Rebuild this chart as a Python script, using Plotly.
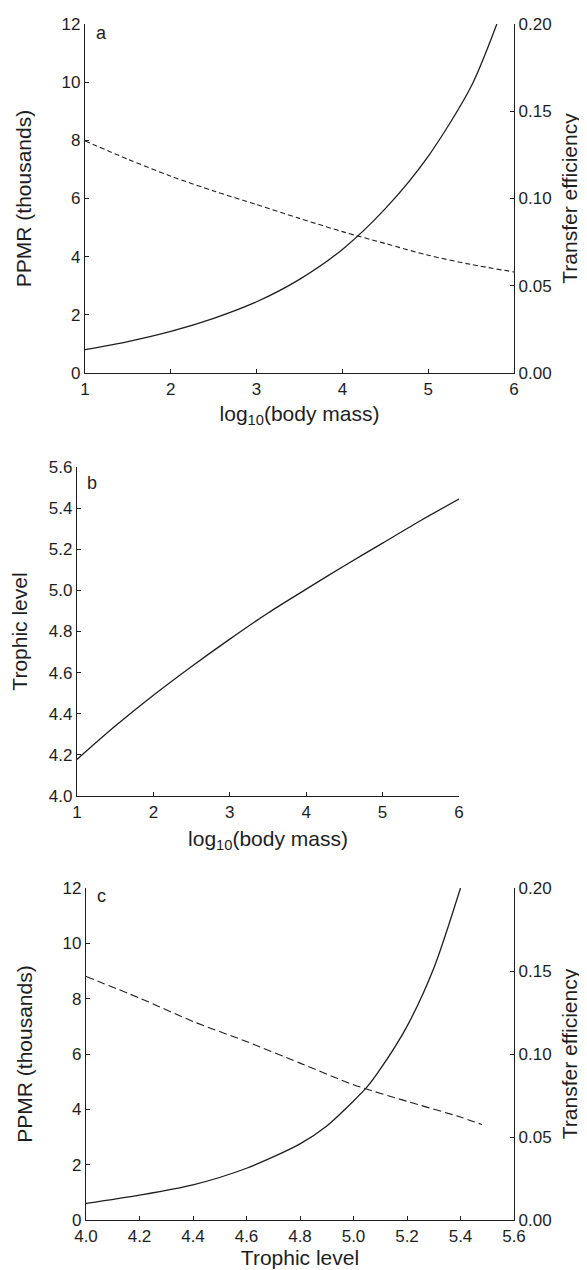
import plotly.graph_objects as go

# Panel a: PPMR and transfer efficiency vs log10(body mass)
a_x_ppmr = [1.0, 1.5, 2.0, 2.5, 3.0, 3.5, 4.0, 4.5, 5.0, 5.5, 5.8]
a_ppmr = [0.80, 1.08, 1.43, 1.88, 2.45, 3.22, 4.25, 5.65, 7.45, 9.85, 12.0]
a_x_te = [1.0, 1.5, 2.0, 2.5, 3.0, 3.5, 4.0, 4.5, 5.0, 5.5, 6.0]
a_te = [0.133, 0.1225, 0.1128, 0.1043, 0.0965, 0.0886, 0.081, 0.0742, 0.0675, 0.0622, 0.0579]

# Panel b: trophic level vs log10(body mass)
b_x = [1.0, 1.5, 2.0, 2.5, 3.0, 3.5, 4.0, 4.5, 5.0, 5.5, 6.0]
b_tl = [4.178, 4.34, 4.49, 4.63, 4.763, 4.89, 5.006, 5.12, 5.23, 5.34, 5.444]

# Panel c: PPMR and transfer efficiency vs trophic level
c_x_ppmr = [4.0, 4.2, 4.4, 4.6, 4.8, 4.9, 5.0, 5.05, 5.1, 5.2, 5.3, 5.4]
c_ppmr = [0.60, 0.90, 1.27, 1.87, 2.75, 3.40, 4.30, 4.80, 5.45, 7.00, 9.10, 12.0]
c_x_te = [4.0, 4.2, 4.4, 4.6, 4.8, 5.0, 5.2, 5.4, 5.48]
c_te = [0.1467, 0.1337, 0.1196, 0.1075, 0.0945, 0.0815, 0.0715, 0.062, 0.0575]

INK = "#1e1e1e"
FONT = "Liberation Sans, Arial, sans-serif"
TICKF = dict(family=FONT, size=17, color=INK)
TITLEF = dict(family=FONT, size=21, color=INK)
LBLF = dict(family=FONT, size=18, color=INK)

fig = go.Figure()
fig.add_trace(go.Scatter(x=a_x_ppmr, y=a_ppmr, mode="lines",
                         line=dict(color=INK, width=1.3, shape="spline", smoothing=0.8),
                         xaxis="x", yaxis="y", showlegend=False))
fig.add_trace(go.Scatter(x=a_x_te, y=a_te, mode="lines",
                         line=dict(color=INK, width=1.1, dash="5px,3px", shape="spline", smoothing=0.8),
                         xaxis="x", yaxis="y2", showlegend=False))
fig.add_trace(go.Scatter(x=b_x, y=b_tl, mode="lines",
                         line=dict(color=INK, width=1.3, shape="spline", smoothing=0.8),
                         xaxis="x2", yaxis="y3", showlegend=False))
fig.add_trace(go.Scatter(x=c_x_ppmr, y=c_ppmr, mode="lines",
                         line=dict(color=INK, width=1.3, shape="spline", smoothing=0.8),
                         xaxis="x3", yaxis="y4", showlegend=False))
fig.add_trace(go.Scatter(x=c_x_te, y=c_te, mode="lines",
                         line=dict(color=INK, width=1.1, dash="8px,4px", shape="spline", smoothing=0.8),
                         xaxis="x3", yaxis="y5", showlegend=False))

W, H = 587, 1270


def ax(**kw):
    base = dict(showline=True, linecolor=INK, linewidth=1.2, ticks="inside", ticklen=4,
                tickcolor=INK, tickwidth=1.2, showgrid=False, zeroline=False,
                tickfont=TICKF, automargin=False)
    base.update(kw)
    return base


fig.update_layout(
    width=W, height=H,
    margin=dict(l=0, r=0, t=0, b=0),
    paper_bgcolor="white", plot_bgcolor="white",
    xaxis=ax(domain=[77 / W, 506 / W], anchor="y", range=[1, 6], dtick=1,
             title=dict(text="log<sub>10</sub>(body mass)", font=TITLEF, standoff=8)),
    yaxis=ax(domain=[1 - 365 / H, 1 - 16 / H], anchor="x", range=[0, 12], dtick=2,
             title=dict(text="PPMR (thousands)", font=TITLEF, standoff=24)),
    yaxis2=ax(overlaying="y", side="right", anchor="x", range=[0, 0.2], dtick=0.05,
              tickformat=".2f",
              title=dict(text="Transfer efficiency", font=TITLEF, standoff=11)),
    xaxis2=ax(domain=[69 / W, 451 / W], anchor="y3", range=[1, 6], dtick=1,
              title=dict(text="log<sub>10</sub>(body mass)", font=TITLEF, standoff=10)),
    yaxis3=ax(domain=[1 - 788 / H, 1 - 459 / H], anchor="x2", range=[4.0, 5.6], dtick=0.2,
              tickformat=".1f",
              title=dict(text="Trophic level", font=TITLEF, standoff=16)),
    xaxis3=ax(domain=[78 / W, 506 / W], anchor="y4", range=[4.0, 5.6], dtick=0.2,
              tickformat=".1f",
              title=dict(text="Trophic level", font=TITLEF, standoff=5)),
    yaxis4=ax(domain=[1 - 1212 / H, 1 - 880 / H], anchor="x3", range=[0, 12], dtick=2,
              title=dict(text="PPMR (thousands)", font=TITLEF, standoff=24)),
    yaxis5=ax(overlaying="y4", side="right", anchor="x3", range=[0, 0.2], dtick=0.05,
              tickformat=".2f",
              title=dict(text="Transfer efficiency", font=TITLEF, standoff=11)),
    annotations=[
        dict(text="a", x=0.02, y=0.975, xref="x domain", yref="y domain", showarrow=False,
             xanchor="left", yanchor="middle", font=LBLF),
        dict(text="b", x=0.02, y=0.95, xref="x2 domain", yref="y3 domain", showarrow=False,
             xanchor="left", yanchor="middle", font=LBLF),
        dict(text="c", x=0.02, y=0.975, xref="x3 domain", yref="y4 domain", showarrow=False,
             xanchor="left", yanchor="middle", font=LBLF),
    ],
)

fig.write_html("out.html")
